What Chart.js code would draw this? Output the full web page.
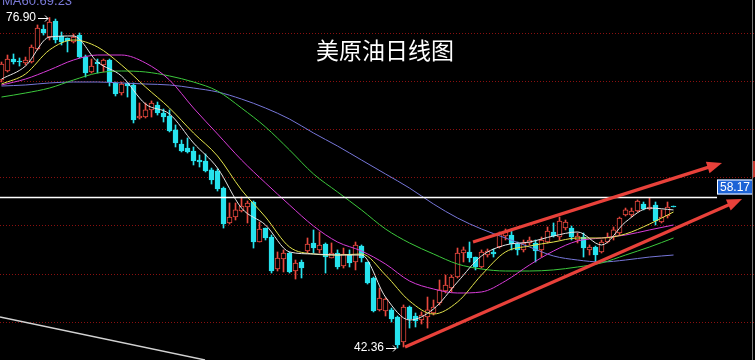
<!DOCTYPE html>
<html>
<head>
<meta charset="utf-8">
<script src="https://cdn.jsdelivr.net/npm/chart.js@4.4.1/dist/chart.umd.min.js"></script>
<style>
  html, body { margin: 0; padding: 0; background: #000; }
  #wrap { width: 755px; height: 360px; }
  canvas { display: block; }
</style>
</head>
<body>
<div id="wrap"><canvas id="kline" width="755" height="360"></canvas></div>
<script>
// ---------- 日K线数据 ----------
const opens = [
  70.37, 71.31, 72.56, 72.30, 72.15, 72.25, 73.61, 75.70, 74.86, 76.54,
  74.97, 74.76, 74.34, 75.07, 72.77, 71.21, 72.25, 71.94, 72.46, 70.06,
  69.01, 70.06, 69.85, 66.40, 66.50, 67.24, 67.76, 66.92, 66.61, 65.15,
  63.68, 63.26, 62.95, 62.01, 61.91, 60.97, 60.86, 59.08, 55.43, 56.05,
  56.68, 57.10, 57.62, 53.44, 54.90, 53.96, 50.62, 51.66, 52.29, 50.41,
  51.35, 52.50, 53.34, 52.61, 53.23, 51.77, 52.29, 50.93, 52.08, 51.35,
  53.02, 51.35, 49.68, 46.34, 46.23, 46.34, 45.60, 42.99, 46.65, 45.71,
  45.29, 45.60, 46.02, 47.07, 48.32, 48.63, 49.78, 52.29, 52.40, 51.87,
  50.83, 52.08, 52.40, 52.92, 54.07, 54.17, 53.23, 52.61, 53.34, 53.34,
  52.61, 53.44, 54.49, 53.96, 54.90, 54.90, 53.65, 53.96, 52.61, 52.92,
  52.40, 53.44, 53.96, 54.38, 56.26, 56.26, 56.68, 57.41, 56.89, 57.31,
  55.53, 56.16, 57.15
]
const highs = [
  72.25, 72.98, 73.09, 72.67, 72.77, 74.03, 76.12, 76.12, 76.90, 76.74,
  75.39, 74.76, 75.18, 75.28, 72.98, 72.56, 72.56, 72.56, 72.56, 70.16,
  70.16, 70.06, 70.06, 67.97, 67.97, 68.18, 68.07, 67.34, 67.24, 65.67,
  64.10, 64.31, 63.37, 62.53, 62.64, 61.17, 61.07, 59.19, 57.52, 57.52,
  58.14, 57.73, 57.73, 55.53, 54.90, 54.17, 52.40, 52.61, 52.40, 51.56,
  51.56, 53.86, 54.70, 54.49, 53.34, 53.34, 52.61, 52.81, 52.61, 53.44,
  53.13, 51.35, 49.78, 48.63, 47.59, 46.54, 45.71, 46.86, 46.75, 46.02,
  46.13, 47.69, 47.38, 49.47, 49.99, 49.99, 52.81, 52.92, 53.44, 51.87,
  52.61, 52.71, 52.71, 54.49, 54.80, 54.80, 53.44, 53.65, 53.96, 53.65,
  53.96, 55.01, 55.43, 56.05, 55.74, 55.11, 54.38, 54.38, 53.13, 53.02,
  53.65, 54.38, 55.01, 56.05, 56.99, 56.99, 57.83, 57.62, 58.04, 57.62,
  56.79, 57.62, 57.20
]
const lows = [
  70.16, 71.21, 72.04, 71.83, 71.94, 72.15, 73.51, 75.07, 74.55, 74.24,
  74.03, 73.30, 74.24, 72.67, 70.68, 71.10, 71.10, 71.21, 69.74, 68.70,
  68.80, 68.59, 65.88, 66.29, 66.40, 66.50, 66.71, 65.98, 64.94, 63.37,
  62.85, 62.74, 61.49, 61.28, 60.76, 59.50, 58.77, 54.90, 55.32, 55.74,
  56.58, 55.43, 52.81, 53.44, 53.65, 50.20, 50.41, 50.31, 50.20, 49.57,
  49.68, 52.29, 52.29, 52.29, 50.20, 51.77, 50.62, 50.72, 50.83, 50.52,
  51.35, 49.05, 46.13, 46.23, 45.71, 45.08, 42.36, 42.47, 44.45, 44.56,
  44.87, 44.45, 45.81, 46.86, 48.11, 48.22, 49.68, 51.35, 51.35, 50.52,
  50.72, 51.87, 51.87, 52.81, 53.65, 52.61, 52.08, 52.40, 53.13, 51.35,
  51.87, 53.34, 53.96, 53.65, 54.70, 53.65, 53.34, 51.87, 52.08, 51.25,
  52.29, 53.34, 53.65, 54.17, 56.16, 56.05, 56.58, 56.79, 56.79, 55.22,
  55.43, 55.95, 57.10
]
const closes = [
  72.04, 72.56, 72.25, 72.25, 72.46, 73.82, 75.80, 75.28, 76.43, 74.55,
  74.34, 74.45, 74.86, 72.77, 71.10, 71.83, 72.04, 72.46, 70.16, 68.91,
  69.95, 69.74, 66.19, 66.61, 67.24, 67.97, 66.92, 66.50, 65.04, 63.79,
  62.95, 62.85, 61.91, 61.80, 60.86, 59.92, 58.98, 55.32, 56.05, 56.79,
  57.20, 57.52, 53.44, 54.80, 53.86, 50.41, 51.77, 52.29, 50.31, 51.25,
  50.72, 53.23, 52.81, 53.13, 51.87, 52.29, 50.83, 52.19, 51.25, 53.13,
  51.77, 49.16, 46.23, 47.59, 47.48, 45.39, 42.68, 46.65, 45.39, 45.19,
  45.81, 46.34, 46.65, 48.43, 48.95, 49.78, 52.29, 52.61, 51.77, 50.83,
  52.40, 52.50, 52.19, 54.38, 54.49, 53.23, 52.61, 53.34, 53.65, 52.50,
  53.65, 54.59, 54.07, 55.64, 55.53, 53.96, 54.07, 52.81, 52.92, 52.08,
  53.44, 53.96, 54.70, 55.95, 56.79, 56.68, 57.73, 56.89, 57.10, 55.64,
  56.05, 57.10, 57.10
]

// ---------- 均线 (每4根K线取样一次) ----------
const maIndex = [0, 4, 8, 12, 16, 20, 24, 28, 32, 36, 40, 44, 48, 52, 56, 60,
  64, 68, 72, 76, 80, 84, 88, 92, 96, 100, 104, 108, 112]
const ma5 = [70.47, 71.83, 74.86, 74.97, 72.25, 70.79, 67.86, 66.82, 63.79, 61.17,
  56.99, 55.22, 52.40, 52.19, 52.08, 52.08, 47.69, 45.29, 46.44, 49.26,
  51.98, 53.13, 53.44, 54.07, 54.49, 53.13, 55.53, 56.99, 56.79]
const ma10 = [69.95, 71.00, 73.51, 74.55, 73.82, 71.94, 69.64, 67.44, 64.83, 62.43,
  58.88, 56.05, 52.92, 52.19, 52.08, 52.19, 49.99, 47.28, 45.92, 47.17,
  49.99, 52.40, 53.02, 53.44, 53.86, 53.86, 54.28, 55.32, 56.58]
const ma20 = [69.85, 70.47, 71.42, 72.46, 72.98, 72.98, 72.15, 70.37, 67.44, 64.73,
  62.01, 59.61, 57.31, 55.11, 53.44, 52.50, 51.14, 49.37, 48.53, 48.11,
  48.22, 49.37, 51.04, 52.50, 53.55, 53.86, 54.17, 54.70, 55.22]
const ma40 = [68.59, 69.01, 69.53, 70.37, 71.10, 71.31, 71.21, 70.79, 70.16, 69.22,
  67.44, 65.46, 63.06, 60.55, 58.67, 56.79, 54.80, 53.34, 52.19, 51.14,
  50.62, 50.41, 50.41, 50.52, 50.83, 51.25, 52.08, 52.92, 53.86]
const ma60 = [69.74, 69.85, 70.06, 70.16, 70.16, 70.06, 69.95, 69.85, 69.53, 69.12,
  68.38, 67.44, 66.29, 64.83, 63.47, 62.01, 60.55, 59.08, 57.41, 55.95,
  54.80, 53.86, 52.92, 51.98, 51.56, 51.35, 51.56, 51.87, 52.08]

// ---------- 标注 ----------
const gridLevels = [45.08, 50.10, 55.22, 60.23, 65.25, 70.27, 75.28]
const levelPrice = 58.17
const highMark = { index: 8, price: 76.90 }
const lowMark = { index: 66, price: 42.36 }
// 趋势线: [起点序号, 起点价格, 终点序号, 终点价格]
const upperTrend = [78.58, 53.44, 120.08, 61.70]
const lowerTrend = [67.25, 42.47, 123.42, 57.93]
const oldTrend = [-0.25, 45.60, 33.92, 41.11]

const UP = '#e8483e'
const DOWN = '#27e3ee'

// =============================================
// 数据集
// =============================================
const idx = closes.map((_, i) => i)
const isUp = i => closes[i] >= opens[i]

const wickData = idx.map(i => ({ x: i, y: [lows[i], highs[i]] }))
const bodyData = idx.map(i => ({ x: i, y: [opens[i], closes[i]] }))

function maSet(values, color) {
  return {
    type: 'line',
    data: maIndex.map((x, k) => ({ x, y: values[k] })),
    borderColor: color,
    borderWidth: 1,
    pointRadius: 0,
    cubicInterpolationMode: 'monotone',
    order: 0,
  }
}

// =============================================
// 叠加绘制: 网格、水平线、趋势箭头、文字
// =============================================
function arrowLine(ctx, x1, y1, x2, y2, color) {
  const ang = Math.atan2(y2 - y1, x2 - x1)
  const head = 15, half = 6
  const bx = x2 - Math.cos(ang) * head
  const by = y2 - Math.sin(ang) * head
  ctx.strokeStyle = color
  ctx.fillStyle = color
  ctx.lineWidth = 3.2
  ctx.beginPath()
  ctx.moveTo(x1, y1)
  ctx.lineTo(bx + Math.cos(ang) * 2, by + Math.sin(ang) * 2)
  ctx.stroke()
  ctx.beginPath()
  ctx.moveTo(x2, y2)
  ctx.lineTo(bx - Math.sin(ang) * half, by + Math.cos(ang) * half)
  ctx.lineTo(bx + Math.sin(ang) * half, by - Math.cos(ang) * half)
  ctx.closePath()
  ctx.fill()
}

function markText(ctx, chart, mark) {
  const { x, y } = chart.scales
  const cx = x.getPixelForValue(mark.index)
  const cy = y.getPixelForValue(mark.price)
  const tip = cx - 1.5
  ctx.fillStyle = '#ffffff'
  ctx.strokeStyle = '#ffffff'
  ctx.lineWidth = 1
  ctx.font = '12px "Liberation Sans", Arial, sans-serif'
  ctx.textAlign = 'right'
  ctx.textBaseline = 'middle'
  ctx.fillText(mark.price.toFixed(2), tip - 12, cy)
  const ly = Math.round(cy) + 0.5
  ctx.beginPath()
  ctx.moveTo(tip - 10, ly); ctx.lineTo(tip, ly)
  ctx.moveTo(tip - 3, ly - 3); ctx.lineTo(tip, ly); ctx.lineTo(tip - 3, ly + 3)
  ctx.stroke()
}

const overlay = {
  id: 'overlay',
  beforeDatasetsDraw(chart) {
    const { ctx, chartArea, scales: { y } } = chart
    ctx.save()
    ctx.strokeStyle = '#8a1010'
    ctx.lineWidth = 1
    ctx.setLineDash([1, 2])
    gridLevels.forEach(v => {
      const py = Math.round(y.getPixelForValue(v)) + 0.5
      ctx.beginPath()
      ctx.moveTo(chartArea.left, py)
      ctx.lineTo(chartArea.right, py)
      ctx.stroke()
    })
    ctx.restore()
  },
  afterDatasetsDraw(chart) {
    const { ctx, chartArea, scales: { x, y } } = chart
    const px = v => x.getPixelForValue(v)
    const py = v => y.getPixelForValue(v)
    ctx.save()

    // 老趋势线 (左下)
    ctx.strokeStyle = '#d2d2d2'
    ctx.lineWidth = 1.4
    ctx.beginPath()
    ctx.moveTo(px(oldTrend[0]), py(oldTrend[1]))
    ctx.lineTo(px(oldTrend[2]), py(oldTrend[3]))
    ctx.stroke()

    // 当前价格水平线
    const ly = Math.round(py(levelPrice)) + 0.5
    ctx.strokeStyle = '#ffffff'
    ctx.lineWidth = 1.5
    ctx.beginPath()
    ctx.moveTo(chartArea.left, ly)
    ctx.lineTo(717, ly)
    ctx.stroke()

    // 上升通道箭头
    arrowLine(ctx, px(upperTrend[0]), py(upperTrend[1]), px(upperTrend[2]), py(upperTrend[3]), '#e8413a')
    arrowLine(ctx, px(lowerTrend[0]), py(lowerTrend[1]), px(lowerTrend[2]), py(lowerTrend[3]), '#e8413a')

    // 右侧价格标签
    ctx.fillStyle = '#1d63d6'
    ctx.fillRect(717, ly - 18, 36, 15)
    ctx.strokeStyle = '#ffffff'
    ctx.lineWidth = 1
    ctx.strokeRect(717.5, ly - 17.5, 35, 14)
    ctx.fillStyle = '#ffffff'
    ctx.font = '12px "Liberation Sans", Arial, sans-serif'
    ctx.textAlign = 'center'
    ctx.textBaseline = 'middle'
    ctx.fillText(levelPrice.toFixed(2), 735, ly - 10)

    // 右边框
    ctx.strokeStyle = '#7c7c7c'
    ctx.beginPath()
    ctx.moveTo(752.5, 0)
    ctx.lineTo(752.5, 360)
    ctx.stroke()
    ctx.fillStyle = '#c83a32'
    ctx.fillRect(753, 161, 2, 16)

    // 最高 / 最低价
    markText(ctx, chart, highMark)
    markText(ctx, chart, lowMark)

    // 标题
    ctx.fillStyle = '#ffffff'
    ctx.font = '23px "Noto Sans CJK SC", sans-serif'
    ctx.textAlign = 'left'
    ctx.textBaseline = 'alphabetic'
    ctx.fillText('美原油日线图', 316, 59)

    // 均线说明 (被截断在顶部)
    ctx.fillStyle = '#7a7ad8'
    ctx.font = '13px "Liberation Sans", Arial, sans-serif'
    ctx.fillText('MA60:69.23', 2, 5)

    ctx.restore()
  }
}

// =============================================
// 图表
// =============================================
new Chart(document.getElementById('kline'), {
  type: 'bar',
  data: {
    datasets: [
      maSet(ma5, '#e6e6e6'),
      maSet(ma10, '#e4e44c'),
      maSet(ma20, '#d83cd8'),
      maSet(ma40, '#3cc83c'),
      maSet(ma60, '#7676d8'),
      {
        type: 'bar',
        data: bodyData,
        grouped: false,
        barThickness: 5,
        minBarLength: 1,
        borderWidth: 1,
        borderSkipped: false,
        backgroundColor: c => isUp(c.dataIndex) ? '#000000' : DOWN,
        borderColor: c => isUp(c.dataIndex) ? UP : DOWN,
        order: 1,
      },
      {
        type: 'bar',
        data: wickData,
        grouped: false,
        barThickness: 1,
        borderWidth: 0,
        backgroundColor: c => isUp(c.dataIndex) ? UP : DOWN,
        order: 2,
      },
    ]
  },
  options: {
    responsive: false,
    animation: false,
    devicePixelRatio: 1,
    layout: { padding: 0 },
    plugins: { legend: { display: false }, tooltip: { enabled: false } },
    scales: {
      x: { type: 'linear', display: false, offset: false, min: -0.25, max: 125.58 },
      y: { type: 'linear', display: false, min: 41.11, max: 78.73 },
    }
  },
  plugins: [overlay]
})
</script>
</body>
</html>
